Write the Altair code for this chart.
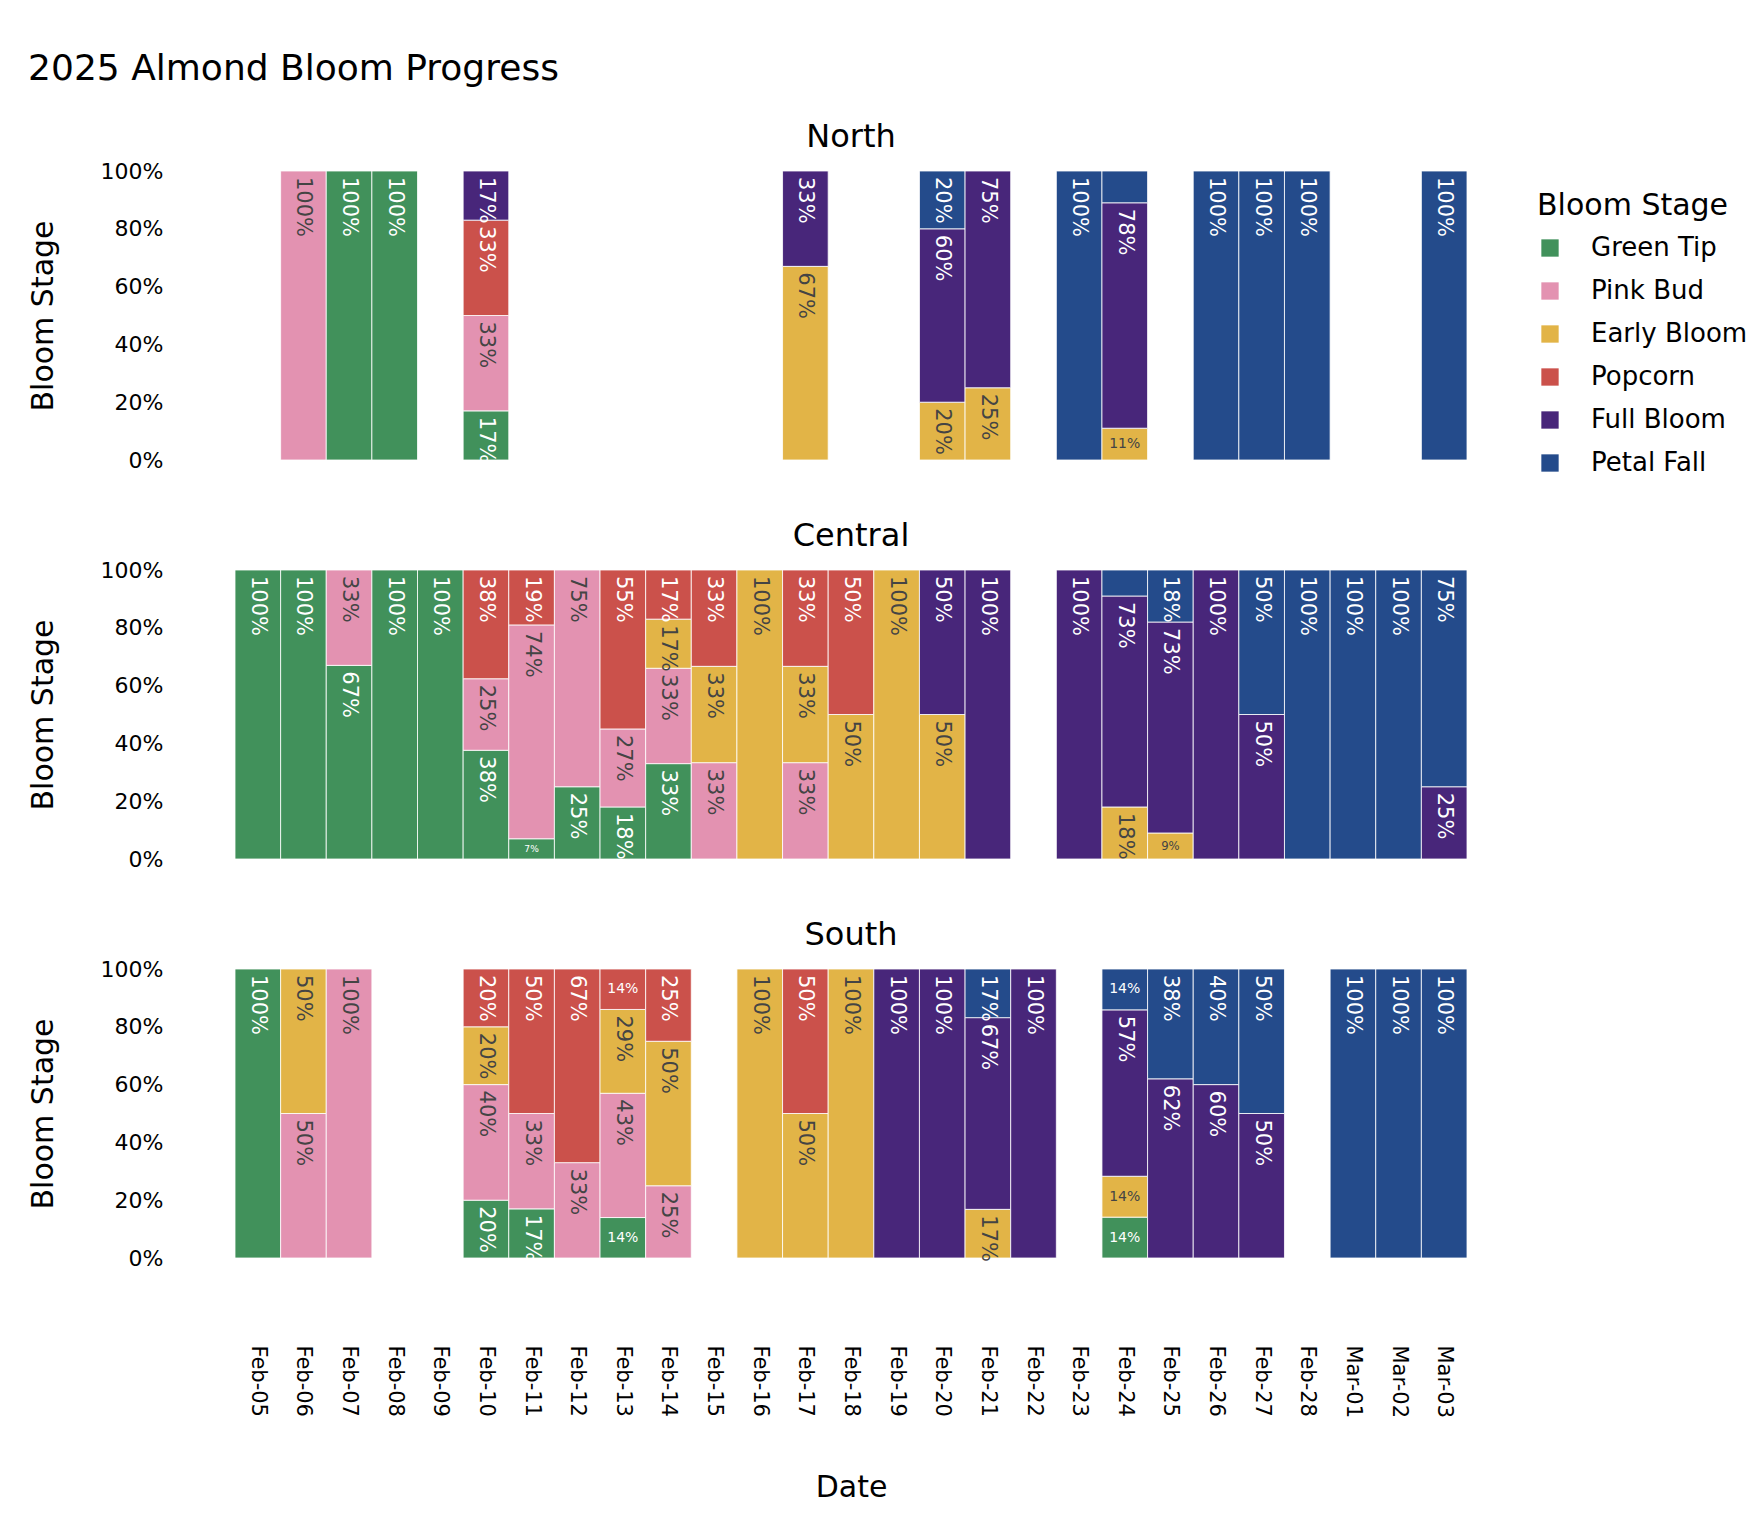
import altair as alt
import pandas as pd

DATES = ["Feb-05", "Feb-06", "Feb-07", "Feb-08", "Feb-09", "Feb-10", "Feb-11",
         "Feb-12", "Feb-13", "Feb-14", "Feb-15", "Feb-16", "Feb-17", "Feb-18",
         "Feb-19", "Feb-20", "Feb-21", "Feb-22", "Feb-23", "Feb-24", "Feb-25",
         "Feb-26", "Feb-27", "Feb-28", "Mar-01", "Mar-02", "Mar-03"]
STAGES = ["Green Tip", "Pink Bud", "Early Bloom", "Popcorn", "Full Bloom", "Petal Fall"]
COLORS = ["#41915B", "#E392B1", "#E2B447", "#CB514B", "#48267A", "#244B8B"]
REGIONS = ["North", "Central", "South"]

# share per date: [Green Tip, Pink Bud, Early Bloom, Popcorn, Full Bloom, Petal Fall]
north = {
    "Feb-06": [0, 100, 0, 0, 0, 0],
    "Feb-07": [100, 0, 0, 0, 0, 0],
    "Feb-08": [100, 0, 0, 0, 0, 0],
    "Feb-10": [17, 33, 0, 33, 17, 0],
    "Feb-17": [0, 0, 67, 0, 33, 0],
    "Feb-20": [0, 0, 20, 0, 60, 20],
    "Feb-21": [0, 0, 25, 0, 75, 0],
    "Feb-23": [0, 0, 0, 0, 0, 100],
    "Feb-24": [0, 0, 11, 0, 78, 11],
    "Feb-26": [0, 0, 0, 0, 0, 100],
    "Feb-27": [0, 0, 0, 0, 0, 100],
    "Feb-28": [0, 0, 0, 0, 0, 100],
    "Mar-03": [0, 0, 0, 0, 0, 100],
}
central = {
    "Feb-05": [100, 0, 0, 0, 0, 0],
    "Feb-06": [100, 0, 0, 0, 0, 0],
    "Feb-07": [67, 33, 0, 0, 0, 0],
    "Feb-08": [100, 0, 0, 0, 0, 0],
    "Feb-09": [100, 0, 0, 0, 0, 0],
    "Feb-10": [38, 25, 0, 38, 0, 0],
    "Feb-11": [7, 74, 0, 19, 0, 0],
    "Feb-12": [25, 75, 0, 0, 0, 0],
    "Feb-13": [18, 27, 0, 55, 0, 0],
    "Feb-14": [33, 33, 17, 17, 0, 0],
    "Feb-15": [0, 33, 33, 33, 0, 0],
    "Feb-16": [0, 0, 100, 0, 0, 0],
    "Feb-17": [0, 33, 33, 33, 0, 0],
    "Feb-18": [0, 0, 50, 50, 0, 0],
    "Feb-19": [0, 0, 100, 0, 0, 0],
    "Feb-20": [0, 0, 50, 0, 50, 0],
    "Feb-21": [0, 0, 0, 0, 100, 0],
    "Feb-23": [0, 0, 0, 0, 100, 0],
    "Feb-24": [0, 0, 18, 0, 73, 9],
    "Feb-25": [0, 0, 9, 0, 73, 18],
    "Feb-26": [0, 0, 0, 0, 100, 0],
    "Feb-27": [0, 0, 0, 0, 50, 50],
    "Feb-28": [0, 0, 0, 0, 0, 100],
    "Mar-01": [0, 0, 0, 0, 0, 100],
    "Mar-02": [0, 0, 0, 0, 0, 100],
    "Mar-03": [0, 0, 0, 0, 25, 75],
}
south = {
    "Feb-05": [100, 0, 0, 0, 0, 0],
    "Feb-06": [0, 50, 50, 0, 0, 0],
    "Feb-07": [0, 100, 0, 0, 0, 0],
    "Feb-10": [20, 40, 20, 20, 0, 0],
    "Feb-11": [17, 33, 0, 50, 0, 0],
    "Feb-12": [0, 33, 0, 67, 0, 0],
    "Feb-13": [14, 43, 29, 14, 0, 0],
    "Feb-14": [0, 25, 50, 25, 0, 0],
    "Feb-16": [0, 0, 100, 0, 0, 0],
    "Feb-17": [0, 0, 50, 50, 0, 0],
    "Feb-18": [0, 0, 100, 0, 0, 0],
    "Feb-19": [0, 0, 0, 0, 100, 0],
    "Feb-20": [0, 0, 0, 0, 100, 0],
    "Feb-21": [0, 0, 17, 0, 67, 17],
    "Feb-22": [0, 0, 0, 0, 100, 0],
    "Feb-24": [14, 0, 14, 0, 57, 14],
    "Feb-25": [0, 0, 0, 0, 62, 38],
    "Feb-26": [0, 0, 0, 0, 60, 40],
    "Feb-27": [0, 0, 0, 0, 50, 50],
    "Mar-01": [0, 0, 0, 0, 0, 100],
    "Mar-02": [0, 0, 0, 0, 0, 100],
    "Mar-03": [0, 0, 0, 0, 0, 100],
}
# segments drawn without a label in the original
unlabeled = [("North", "Feb-24", "Petal Fall"), ("Central", "Feb-24", "Petal Fall")]

rows = []
for region, table in zip(REGIONS, [north, central, south]):
    for date, vals in table.items():
        for i, (stage, v) in enumerate(zip(STAGES, vals)):
            if v > 0:
                lab = "" if (region, date, stage) in unlabeled else f"{v}%"
                rows.append({"region": region, "date": date, "stage": stage,
                             "order": i, "value": v, "label": lab})
df = pd.DataFrame(rows)

FONT = "DejaVu Sans"


def stacked():
    return alt.Chart().transform_stack(
        stack="value", as_=["y0", "y1"], groupby=["region", "date"],
        sort=[alt.SortField("order", order="ascending")], offset="normalize"
    )


xenc = alt.X("date:N", sort=DATES,
             scale=alt.Scale(domain=DATES, paddingInner=0, paddingOuter=0),
             title="Date")
dark = "datum.stage == 'Pink Bud' || datum.stage == 'Early Bloom'"

bars = stacked().mark_bar(stroke="white", strokeWidth=1, strokeOpacity=0.8).encode(
    x=xenc,
    y=alt.Y("y0:Q", scale=alt.Scale(domain=[0, 1]), title="Bloom Stage",
            axis=alt.Axis(format=".0%", values=[0, 0.2, 0.4, 0.6, 0.8, 1])),
    y2="y1:Q",
    color=alt.Color("stage:N", scale=alt.Scale(domain=STAGES, range=COLORS),
                    legend=alt.Legend(title="Bloom Stage", orient="none",
                                      legendX=1302, legendY=20)),
)

big_text = stacked().transform_filter("datum.value >= 15 && datum.label != ''").mark_text(
    angle=90, align="left", baseline="middle", dx=6, fontSize=21, font=FONT
).encode(
    x=xenc,
    y="y1:Q",
    text="label:N",
    color=alt.condition(dark, alt.value("#444444"), alt.value("white")),
)

small_text = stacked().transform_filter("datum.value < 15 && datum.label != ''").transform_calculate(
    ymid="(datum.y0 + datum.y1) / 2", fs="min(14, datum.value * 1.3)"
).mark_text(align="center", baseline="middle", font=FONT).encode(
    x=xenc,
    y="ymid:Q",
    text="label:N",
    size=alt.Size("fs:Q", scale=None, legend=None),
    color=alt.condition(dark, alt.value("#444444"), alt.value("white")),
)

chart = alt.layer(bars, big_text, small_text, data=df).properties(
    width=1232, height=289
).facet(
    facet=alt.Facet("region:N", sort=REGIONS,
                    header=alt.Header(title=None, labelFontSize=32, labelFont=FONT,
                                      labelPadding=17, labelColor="black")),
    columns=1, spacing=54,
).properties(
    title=alt.Title("2025 Almond Bloom Progress", fontSize=36, font=FONT,
                    fontWeight="normal", anchor="start", offset=33, color="black"),
    padding={"left": 20, "top": 42, "right": 0, "bottom": 5},
).configure_view(stroke=None).configure_axis(
    grid=False, domain=False, ticks=False, labelFont=FONT, titleFont=FONT,
    labelColor="black", titleColor="black", titleFontWeight="normal",
).configure_axisY(
    labelFontSize=22, labelPadding=71, titleFontSize=30, titlePadding=42,
).configure_axisX(
    labelAngle=90, labelFontSize=21, labelPadding=82, titleFontSize=30, titlePadding=55,
).configure_legend(
    titleFont=FONT, labelFont=FONT, titleFontSize=30, labelFontSize=26,
    titleFontWeight="normal", titleColor="black", labelColor="black",
    symbolType="square", symbolSize=300, symbolStrokeWidth=0, rowPadding=17,
    labelOffset=28, titlePadding=14, padding=0, titleLimit=400, labelLimit=400,
)

chart.save("out.html", embed_options={"renderer": "svg", "actions": False})
